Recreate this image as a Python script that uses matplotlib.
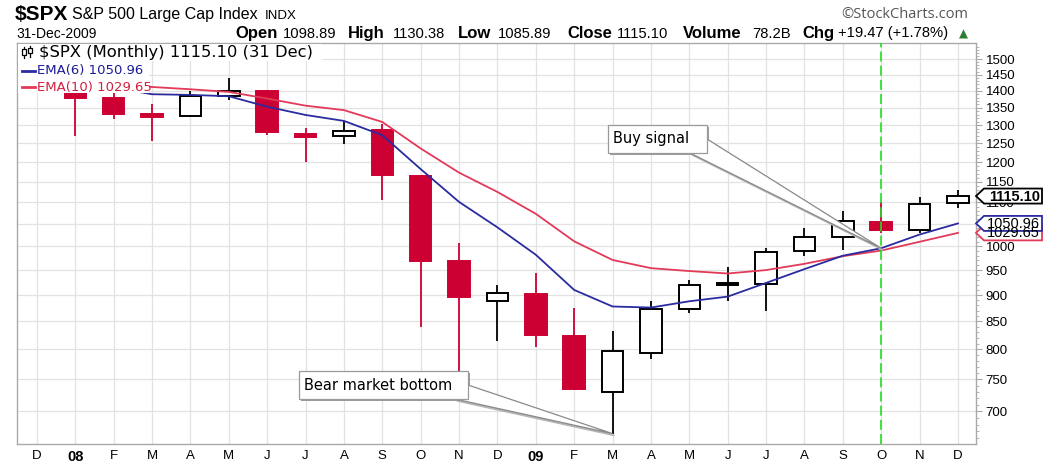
#!/usr/bin/env python3
"""Monthly $SPX candlestick chart with EMA(6)/EMA(10) crossover, StockCharts style."""

import matplotlib
matplotlib.use("Agg")
import matplotlib.pyplot as plt
from matplotlib.patches import Polygon, Rectangle
from matplotlib.transforms import Affine2D
from matplotlib.ticker import FixedLocator, FixedFormatter, NullFormatter

W_PX, H_PX = 1052, 472

# Dec 2007 .. Dec 2009
MONTH_LABELS = ["D", "08", "F", "M", "A", "M", "J", "J", "A", "S", "O", "N",
                "D", "09", "F", "M", "A", "M", "J", "J", "A", "S", "O", "N", "D"]
OPEN = [1515.96, 1467.97, 1378.60, 1330.45, 1326.41, 1385.97, 1399.62, 1276.69,
        1269.42, 1287.83, 1164.17, 968.67, 888.61, 902.99, 823.09, 729.57,
        793.59, 872.74, 923.26, 920.82, 990.22, 1019.52, 1054.91, 1036.18, 1098.89]
HIGH = [1523.57, 1471.77, 1396.02, 1359.68, 1399.93, 1440.24, 1404.05, 1292.17,
        1313.15, 1303.04, 1167.03, 1007.51, 918.85, 943.85, 875.01, 832.98,
        888.70, 930.17, 956.23, 996.68, 1039.47, 1080.15, 1101.36, 1113.69, 1130.38]
LOW = [1435.65, 1270.05, 1316.75, 1256.98, 1324.35, 1373.07, 1272.00, 1200.44,
       1248.48, 1106.42, 839.80, 741.02, 815.69, 804.85, 734.52, 666.79,
       783.32, 866.10, 888.86, 869.32, 978.51, 991.97, 1029.38, 1029.38, 1085.89]
CLOSE = [1468.36, 1378.55, 1330.63, 1322.70, 1385.59, 1400.38, 1280.00, 1267.38,
         1282.83, 1166.36, 968.75, 896.24, 903.25, 825.88, 735.09, 797.87,
         872.81, 919.14, 919.32, 987.48, 1020.62, 1057.08, 1036.19, 1095.63, 1115.10]
PRIOR_CLOSE = 1481.14

# EMA values, Jan 2008 .. Dec 2009
EMA_START = 1
EMA6 = [1440, 1410, 1390, 1388, 1384, 1353, 1329, 1312, 1272, 1182, 1101, 1042,
        982, 910, 878, 876, 888, 897, 924, 952, 980, 996, 1026, 1050.96]
EMA10 = [1445, 1425, 1412, 1405, 1397, 1377, 1356, 1343, 1309, 1236, 1173, 1125,
         1073, 1011, 971, 954, 948, 943, 950, 963, 979, 991, 1010, 1029.65]

SIGNAL_MONTH = 22   # Oct 2009
BOTTOM_MONTH = 15   # Mar 2009
Y_TICKS = list(range(700, 1501, 50))

# quote line in the header: (text, bold, left x in px)
QUOTE = [("Open", True, 235), ("1098.89", False, 283), ("High", True, 348),
         ("1130.38", False, 393), ("Low", True, 458), ("1085.89", False, 498),
         ("Close", True, 567), ("1115.10", False, 617), ("Volume", True, 683),
         ("78.2B", False, 752), ("Chg", True, 802), ("+19.47 (+1.78%)", False, 838)]

RED = "#CC0033"
BLUE = "#2B2BA0"
PINK = "#E23A58"
GRID = "#E2E2E2"
FRAME = "#A9A9A9"

PIX = Affine2D().scale(1, -1).translate(0, H_PX)
HEAD_FONT = ["Liberation Sans", "DejaVu Sans"]


def fig_xy(x, y):
    return x / W_PX, 1 - y / H_PX


def main() -> None:
    plt.rcParams["font.family"] = ["DejaVu Sans"]
    fig = plt.figure(figsize=(W_PX / 100, H_PX / 100), dpi=100)
    left, right, top, bottom = 17, 976, 43, 444
    ax = fig.add_axes([left / W_PX, 1 - bottom / H_PX,
                       (right - left) / W_PX, (bottom - top) / H_PX])
    ax.set_yscale("log")
    ax.set_ylim(652, 1553)
    ax.set_xlim(-0.52, len(MONTH_LABELS) - 1 + 0.47)

    # axes, ticks, grid
    ax.set_xticks(range(len(MONTH_LABELS)))
    ax.set_xticklabels(MONTH_LABELS)
    ax.yaxis.set_major_locator(FixedLocator(Y_TICKS))
    ax.yaxis.set_minor_locator(FixedLocator(list(range(660, 1550, 10))))
    ax.yaxis.set_major_formatter(FixedFormatter([str(t) for t in Y_TICKS]))
    ax.yaxis.set_minor_formatter(NullFormatter())
    ax.yaxis.tick_right()
    ax.grid(True, which="major", color=GRID, lw=0.9, zorder=0)
    ax.set_axisbelow(True)
    ax.tick_params(axis="y", which="major", length=4, width=0.8, color=FRAME, pad=3,
                   labelsize=9.5)
    ax.tick_params(axis="y", which="minor", length=2, width=0.6, color=FRAME)
    ax.tick_params(axis="x", length=0, pad=4)
    for lab in ax.get_yticklabels():
        lab.set_family(HEAD_FONT)
    for lab, txt in zip(ax.get_xticklabels(), MONTH_LABELS):
        lab.set_family(["Liberation Sans Narrow", "Liberation Sans"])
        lab.set_fontsize(10.5 if txt in ("08", "09") else 9.5)
        if txt in ("08", "09"):
            lab.set_fontweight("bold")
    for sp in ax.spines.values():
        sp.set_color(FRAME)
        sp.set_linewidth(1.0)

    # candles: red when close is below the prior close, filled when close < open
    prev = PRIOR_CLOSE
    for i, (o, h, l, c) in enumerate(zip(OPEN, HIGH, LOW, CLOSE)):
        col = RED if c < prev else "black"
        filled = c < o
        ax.vlines(i, l, h, color=col, lw=1.3, zorder=2)
        lo, hi = min(o, c), max(o, c)
        ax.bar(i, hi - lo, bottom=lo, width=0.56,
               facecolor=col if filled else "white", edgecolor=col,
               lw=1.4, zorder=3)
        prev = c

    xs = list(range(EMA_START, EMA_START + len(EMA6)))
    ax.plot(xs, EMA10, color=PINK, lw=1.3, zorder=4)
    ax.plot(xs, EMA6, color=BLUE, lw=1.3, zorder=4)
    ax.axvline(SIGNAL_MONTH, color="#22DD22", lw=1.2, ls=(0, (6, 2.5)), zorder=5)

    def to_px(x, v):
        X, Y = ax.transData.transform((x, v))
        return X, H_PX - Y

    # legend block in the top-left corner
    fig.add_artist(Rectangle((left + 1, top + 1), 131, 49, transform=PIX,
                             facecolor="white", edgecolor="none", zorder=5))
    fig.add_artist(Rectangle((132, top + 1), 190, 17, transform=PIX,
                             facecolor="white", edgecolor="none", zorder=5))
    for (x0, y0, y1, hh) in [(24, 47, 58, (49, 55)), (30, 46, 57, (48, 53))]:
        fig.add_artist(plt.Line2D([x0, x0], [y0, y1], transform=PIX, color="black", lw=0.9, zorder=6))
        fig.add_artist(Rectangle((x0 - 2, hh[0]), 4, hh[1] - hh[0], transform=PIX,
                                 facecolor="white", edgecolor="black", lw=0.9, zorder=6))
    fig.text(*fig_xy(39, 52.5), "$SPX (Monthly) 1115.10 (31 Dec)", color="black",
             fontsize=11.8, va="center", ha="left", zorder=7)
    kw = dict(fontsize=9.5, va="center", ha="left", zorder=7)
    fig.add_artist(plt.Line2D([22, 35], [70.5, 70.5], transform=PIX, color=BLUE, lw=2, zorder=6))
    fig.text(*fig_xy(37, 70.5), f"EMA(6) {EMA6[-1]:.2f}", color="#1C1C9A", **kw)
    fig.add_artist(plt.Line2D([22, 35], [87, 87], transform=PIX, color=PINK, lw=2, zorder=6))
    fig.text(*fig_xy(37, 87), f"EMA(10) {EMA10[-1]:.2f}", color="#D0203F", **kw)

    # callouts
    def callout(box, base, tip, text):
        x0, y0, x1, y1 = box
        wedge = [base[0], tip, base[1]]
        sh = 2
        fig.add_artist(Polygon([(x + sh, y + sh) for x, y in wedge], closed=True, transform=PIX,
                               facecolor="#B5B5B5", edgecolor="#B5B5B5", lw=1, zorder=8))
        fig.add_artist(Rectangle((x0 + sh, y0 + sh), x1 - x0, y1 - y0, transform=PIX,
                                 facecolor="#9C9C9C", edgecolor="none", zorder=8))
        fig.add_artist(Polygon(wedge, closed=True, transform=PIX,
                               facecolor="white", edgecolor="#8A8A8A", lw=0.9, zorder=9))
        fig.add_artist(Rectangle((x0, y0), x1 - x0, y1 - y0, transform=PIX,
                                 facecolor="white", edgecolor="#9A9A9A", lw=0.9, zorder=10))
        fig.text(*fig_xy(x0 + 5, (y0 + y1) / 2), text, fontsize=10.5, va="center",
                 ha="left", zorder=11)

    callout((608, 125, 707, 153), [(707, 139), (690, 153)],
            to_px(SIGNAL_MONTH, EMA6[SIGNAL_MONTH - EMA_START]), "Buy signal")
    callout((299, 371, 468, 399), [(468, 385), (455, 399)],
            to_px(BOTTOM_MONTH, LOW[BOTTOM_MONTH]), "Bear market bottom")

    # price tags on the right axis
    def tag(value, edge, text, bold=False):
        _, yc = to_px(0, value)
        hh = 7.5
        pts = [(right, yc), (right + 8, yc - hh), (1042, yc - hh), (1042, yc + hh), (right + 8, yc + hh)]
        fig.add_artist(Polygon(pts, closed=True, transform=PIX, facecolor="white",
                               edgecolor=edge, lw=1.3, zorder=12))
        fig.text(*fig_xy(1040, yc + 0.5), text, fontsize=10.5, ha="right", va="center",
                 fontweight="bold" if bold else "normal", zorder=13, family=HEAD_FONT)

    tag(EMA10[-1], PINK, f"{EMA10[-1]:.2f}")
    tag(EMA6[-1], BLUE, f"{EMA6[-1]:.2f}")
    tag(CLOSE[-1], "black", f"{CLOSE[-1]:.2f}", bold=True)

    # header
    fig.text(*fig_xy(15, 15), "$SPX", fontsize=15, fontweight="bold", va="center", family=HEAD_FONT)
    fig.text(*fig_xy(72, 15), "S&P 500 Large Cap Index", fontsize=11.5, va="center", family=HEAD_FONT)
    fig.text(*fig_xy(265, 16), "INDX", fontsize=9.5, va="center", family=HEAD_FONT)
    fig.text(*fig_xy(16, 33.5), "31-Dec-2009", fontsize=10, va="center", family=HEAD_FONT)
    fig.text(*fig_xy(968, 15), "\u00a9StockCharts.com", fontsize=10.5, va="center",
             ha="right", color="#555555", family=["Open Sans", "DejaVu Sans"])
    for txt, bold, x in QUOTE:
        fig.text(*fig_xy(x, 33.5), txt, fontsize=12 if bold else 10.6, va="center",
                 fontweight="bold" if bold else "normal", family=HEAD_FONT)
    fig.text(*fig_xy(963, 34), "\u25b2", fontsize=8.5, va="center", ha="center",
             color="#2E7D32", family=["DejaVu Sans"])

    fig.savefig("out.png", dpi=100, facecolor="white")


if __name__ == "__main__":
    main()
